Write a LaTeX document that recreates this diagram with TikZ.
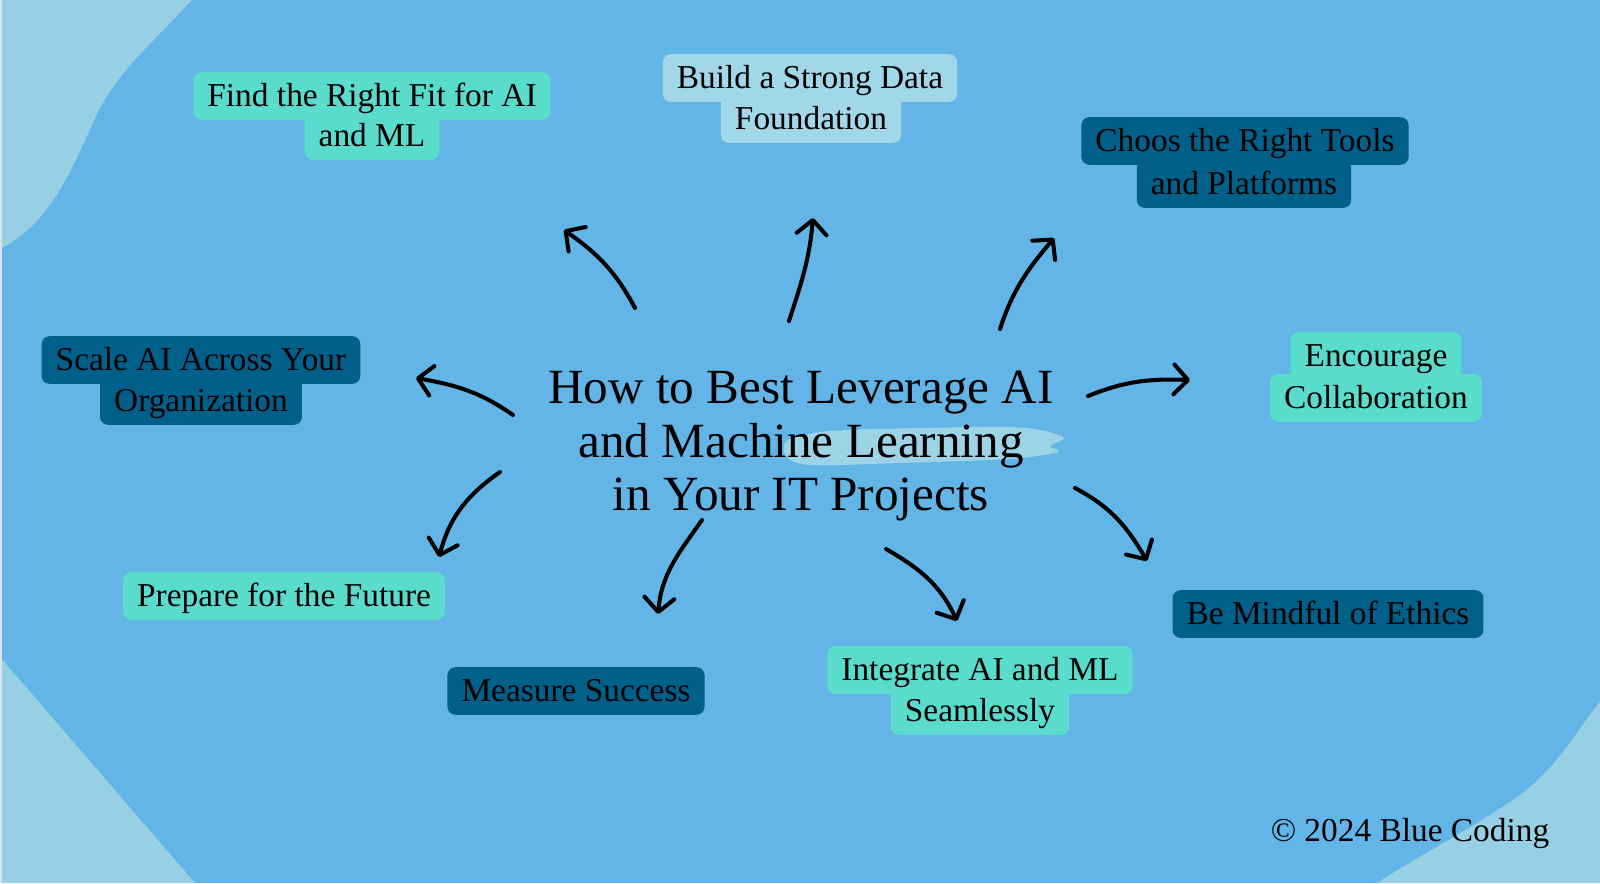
\documentclass[tikz,border=0pt]{standalone}
\usepackage{fontspec}
\setmainfont{Liberation Serif}
\usetikzlibrary{arrows.meta}
\definecolor{bgblue}{HTML}{62B5E6}
\definecolor{cornerblue}{HTML}{97CFE4}
\definecolor{edgegrey}{HTML}{D9E3EA}
\definecolor{mintfill}{HTML}{5ADCCC}
\definecolor{darkfill}{HTML}{00608A}
\definecolor{palefill}{HTML}{A2D7EA}
\definecolor{brushblue}{HTML}{9DD3E6}
\tikzset{
  box/.style={rounded corners=4.5pt, inner xsep=8pt, inner ysep=4.8pt,
    text height=14.8pt, text depth=2.7pt, font=\fontsize{19}{23}\selectfont, text=black},
  mintbox/.style={box, fill=mintfill},
  darkbox/.style={box, fill=darkfill},
  palebox/.style={box, fill=palefill},
  arr/.style={line width=2.3pt, line cap=round, line join=round, black,
    -{Straight Barb[length=8pt,width=17pt,line cap=round,line join=round]}},
  titletext/.style={align=center, font=\fontsize{28}{30.6}\selectfont, text=black, inner sep=0pt}
}
\begin{document}
\begin{tikzpicture}[x=0.02cm, y=-0.02cm]
\useasboundingbox (0,0) rectangle (1600,883);
% background
\fill[bgblue] (0,0) rectangle (1600,883);
\fill[cornerblue] (0,0) -- (192,0) .. controls (150,45) and (118,72) .. (98,112)
  .. controls (75,160) and (55,220) .. (2,248) -- (0,250) -- cycle;
\fill[cornerblue] (0,657) -- (195,883) -- (0,883) -- cycle;
\fill[cornerblue] (1377,883) .. controls (1420,855) and (1470,830) .. (1520,795)
  .. controls (1560,765) and (1580,725) .. (1600,702) -- (1600,883) -- cycle;
\fill[edgegrey] (0,0) rectangle (2,883);
% brush highlight behind "Learning"
\fill[brushblue] plot[smooth cycle, tension=0.5] coordinates {
  (788,440) (830,431) (920,428) (1010,427) (1045,431) (1064,438)
  (1050,446) (1058,452) (1010,459) (900,463) (810,465) (786,456)};
% title
\node[titletext] (title) at (801,446) {How to Best Leverage AI\\and Machine Learning\\in Your IT Projects};
% boxes
\node[mintbox] (fit2) at (372,136) {and ML};
\node[mintbox] (fit1) at (372,96) {Find the Right Fit for AI};
\node[palebox] (build2) at (811,119) {Foundation};
\node[palebox] (build1) at (810,78) {Build a Strong Data};
\node[darkbox] (choos2) at (1244,184) {and Platforms};
\node[darkbox] (choos1) at (1245,141) {Choos the Right Tools};
\node[mintbox] (enc2) at (1376,398) {Collaboration};
\node[mintbox] (enc1) at (1376,356) {Encourage};
\node[darkbox] (ethics) at (1328,614) {Be Mindful of Ethics};
\node[mintbox] (integ2) at (980,711) {Seamlessly};
\node[mintbox] (integ1) at (980,670) {Integrate AI and ML};
\node[darkbox] (measure) at (576,691) {Measure Success};
\node[mintbox] (prepare) at (284,596) {Prepare for the Future};
\node[darkbox] (scale2) at (201,401) {Organization};
\node[darkbox] (scale1) at (201,360) {Scale AI Across Your};
% arrow end points
\coordinate (s1) at (635,308); \coordinate (e1) at (564,230);
\coordinate (s2) at (789,321); \coordinate (e2) at (813,218);
\coordinate (s3) at (1000,329); \coordinate (e3) at (1054,238);
\coordinate (s4) at (1088,396); \coordinate (e4) at (1190,380);
\coordinate (s5) at (1075,488); \coordinate (e5) at (1147,561);
\coordinate (s6) at (886,549); \coordinate (e6) at (957,621);
\coordinate (s7) at (702,520); \coordinate (e7) at (658,614);
\coordinate (s8) at (500,472); \coordinate (e8) at (439,557);
\coordinate (s9) at (513,415); \coordinate (e9) at (416,378);
\draw[arr] (s1) to[out=118, in=-35] (e1);
\draw[arr] (s2) to[out=72, in=-95] (e2);
\draw[arr] (s3) to[out=72, in=-130] (e3);
\draw[arr] (s4) to[out=22, in=178] (e4);
\draw[arr] (s5) to[out=-28, in=120] (e5);
\draw[arr] (s6) to[out=-30, in=115] (e6);
\draw[arr] (s7) to[out=-125, in=85] (e7);
\draw[arr] (s8) to[out=-145, in=75] (e8);
\draw[arr] (s9) to[out=145, in=-10] (e9);
% copyright
\node[font=\fontsize{19}{23}\selectfont, text=black, inner sep=0pt] (copy) at (1410,834) {© 2024 Blue Coding};
\end{tikzpicture}
\end{document}
